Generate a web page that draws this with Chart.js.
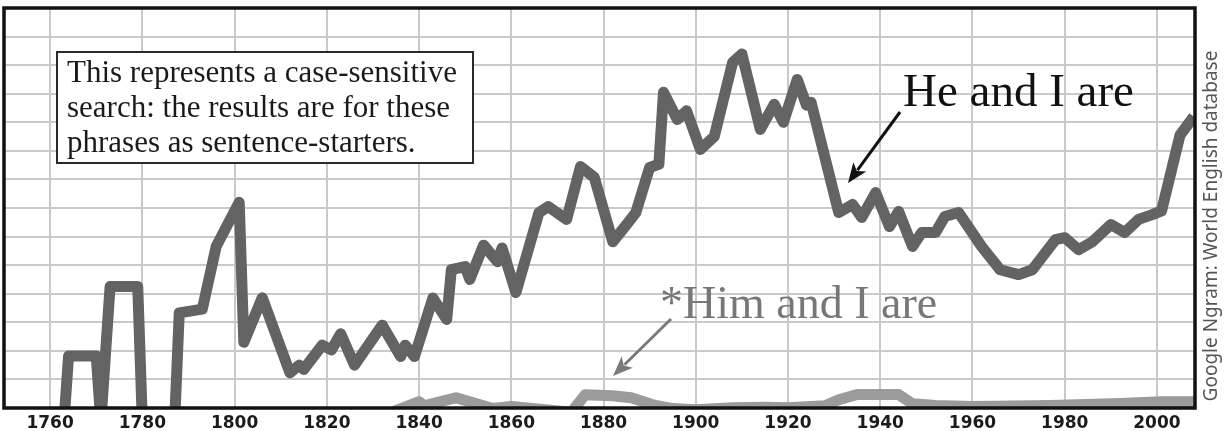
<!DOCTYPE html>
<html>
<head>
<meta charset="utf-8">
<script src="https://cdn.jsdelivr.net/npm/chart.js@4.4.1/dist/chart.umd.min.js"></script>
<style>
  html, body { margin: 0; padding: 0; background: #fff; }
  #wrap { width: 1225px; height: 431px; }
</style>
</head>
<body>
<div id="wrap"><canvas id="ngram" width="1225" height="431"></canvas></div>
<script>
// Values (one grid row = 1 unit)
const heYears = [1763, 1764, 1770, 1771, 1773, 1779, 1780, 1787, 1788, 1793, 1796, 1801, 1802, 1806,
  1812, 1814, 1815, 1819, 1821, 1823, 1826, 1832, 1836, 1837, 1839, 1843, 1846, 1847, 1850, 1851,
  1854, 1857, 1858, 1861, 1866, 1868, 1872, 1875, 1878, 1882, 1885, 1887, 1890, 1892, 1893, 1896,
  1898, 1901, 1904, 1908, 1910, 1914, 1917, 1919, 1922, 1924, 1925, 1931, 1934, 1936, 1939, 1942,
  1944, 1947, 1949, 1952, 1954, 1957, 1962, 1966, 1970, 1973, 1978, 1980, 1983, 1986, 1990, 1993,
  1996, 1999, 2001, 2005, 2008];
const heValues = [-0.5, 1.82, 1.82, -0.5, 4.25, 4.25, -0.5, -0.5, 3.33, 3.46, 5.65, 7.2, 2.3, 3.86,
  1.23, 1.5, 1.35, 2.2, 2.03, 2.6, 1.5, 2.9, 1.8, 2.2, 1.8, 3.85, 3.1, 4.84, 4.95, 4.5,
  5.7, 5.12, 5.6, 4.04, 6.84, 7.05, 6.6, 8.45, 8.07, 5.82, 6.42, 6.84, 8.42, 8.53, 11.05, 10.1,
  10.4, 9.05, 9.5, 12.1, 12.39, 9.75, 10.63, 10.0, 11.5, 10.6, 10.7, 6.84, 7.12, 6.67, 7.54, 6.35,
  6.88, 5.65, 6.14, 6.14, 6.7, 6.84, 5.65, 4.84, 4.67, 4.84, 5.89, 5.96, 5.54, 5.82, 6.42, 6.14,
  6.6, 6.77, 6.9, 9.55, 10.2];

const himYears = [1830, 1834, 1840, 1841, 1848, 1856, 1860, 1873, 1876, 1882, 1886, 1891, 1895, 1900,
  1908, 1915, 1920, 1928, 1931, 1935, 1944, 1947, 1952, 1960, 1977, 1992, 2001, 2008];
const himValues = [-0.5, -0.15, 0.22, 0.08, 0.36, -0.02, 0.05, -0.15, 0.46, 0.43, 0.36, 0.1, -0.02, -0.06,
  0.01, 0.03, 0.01, 0.08, 0.29, 0.47, 0.47, 0.15, 0.09, 0.05, 0.09, 0.16, 0.22, 0.22];

const xTickYears = [1760, 1780, 1800, 1820, 1840, 1860, 1880, 1900, 1920, 1940, 1960, 1980, 2000];

const noteLines = ["This represents a case-sensitive", "search: the results are for these", "phrases as sentence-starters."];
const heLabel = "He and I are";
const himLabel = "*Him and I are";
const sourceText = "Google Ngram: World English database";

function drawArrow(ctx, x1, y1, x2, y2, color) {
    const ang = Math.atan2(y2 - y1, x2 - x1);
    const headLen = 20, headHalf = 8;
    ctx.save();
    ctx.strokeStyle = color;
    ctx.fillStyle = color;
    ctx.lineWidth = 3;
    ctx.beginPath();
    ctx.moveTo(x1, y1);
    ctx.lineTo(x2 - Math.cos(ang) * headLen * 0.8, y2 - Math.sin(ang) * headLen * 0.8);
    ctx.stroke();
    ctx.beginPath();
    ctx.moveTo(x2, y2);
    ctx.lineTo(x2 - Math.cos(ang) * headLen - Math.sin(ang) * headHalf, y2 - Math.sin(ang) * headLen + Math.cos(ang) * headHalf);
    ctx.lineTo(x2 - Math.cos(ang) * headLen * 0.75, y2 - Math.sin(ang) * headLen * 0.75);
    ctx.lineTo(x2 - Math.cos(ang) * headLen + Math.sin(ang) * headHalf, y2 - Math.sin(ang) * headLen - Math.cos(ang) * headHalf);
    ctx.closePath();
    ctx.fill();
    ctx.restore();
}

// frame, note box, labels and the source line
const decorPlugin = {
    id: "decor",
    afterDraw(chart) {
        const ctx = chart.ctx;
        const a = chart.chartArea;
        ctx.save();
        ctx.strokeStyle = "#111";
        ctx.lineWidth = 3.5;
        ctx.strokeRect(a.left, a.top, a.right - a.left, a.bottom - a.top);

        // note box
        ctx.fillStyle = "#fff";
        ctx.fillRect(57, 52, 416, 111);
        ctx.strokeStyle = "#2a2a2a";
        ctx.lineWidth = 2;
        ctx.strokeRect(57, 52, 416, 111);
        ctx.fillStyle = "#1a1a1a";
        ctx.font = "31px 'Liberation Serif'";
        ctx.textAlign = "left";
        ctx.textBaseline = "alphabetic";
        noteLines.forEach((line, i) => ctx.fillText(line, 67, 82 + i * 35));

        // series labels
        ctx.font = "47px 'Liberation Serif'";
        ctx.fillStyle = "#111";
        ctx.fillText(heLabel, 903, 106);
        drawArrow(ctx, 900, 112, 848, 183, "#111");

        ctx.font = "46px 'Liberation Serif'";
        ctx.fillStyle = "#777";
        ctx.fillText(himLabel, 660, 318);
        drawArrow(ctx, 671, 319, 613, 376, "#7a7a7a");

        // source, rotated
        ctx.translate(1212, 226);
        ctx.rotate(-Math.PI / 2);
        ctx.font = "19px 'Noto Sans'";
        ctx.fillStyle = "#555";
        ctx.textAlign = "center";
        ctx.textBaseline = "middle";
        ctx.fillText(sourceText, 0, 0);
        ctx.restore();
    }
};

const ctx = document.getElementById("ngram").getContext("2d");
const ngramChart = new Chart(ctx, {
    type: "line",
    data: {
        datasets: [{
            label: himLabel,
            data: himYears.map((yr, i) => ({ x: yr, y: himValues[i] })),
            borderColor: "#9b9b9b",
            borderWidth: 11,
            borderJoinStyle: "round",
            pointRadius: 0,
            tension: 0,
            clip: 0
        }, {
            label: heLabel,
            data: heYears.map((yr, i) => ({ x: yr, y: heValues[i] })),
            borderColor: "#636363",
            borderWidth: 11,
            borderJoinStyle: "round",
            pointRadius: 0,
            tension: 0,
            clip: 0
        }]
    },
    options: {
        responsive: false,
        animation: false,
        devicePixelRatio: 1,
        layout: { padding: { left: 4, top: 8, right: 30, bottom: 0 } },
        plugins: {
            legend: { display: false },
            tooltip: { enabled: false }
        },
        scales: {
            x: {
                type: "linear",
                min: 1750,
                max: 2008.25,
                afterBuildTicks: (scale) => { scale.ticks = xTickYears.map(v => ({ value: v })); },
                afterFit: (scale) => { scale.height = 23; },
                ticks: {
                    autoSkip: false,
                    maxRotation: 0,
                    padding: 5,
                    color: "#1b1b1b",
                    font: { family: "'DejaVu Sans'", weight: "bold", size: 17 },
                    callback: (v) => String(v)
                },
                grid: { color: "#c9c9c9", lineWidth: 2, drawTicks: false },
                border: { display: false }
            },
            y: {
                min: 0,
                max: 14,
                afterFit: (scale) => { scale.width = 0; },
                ticks: { display: false, stepSize: 1 },
                grid: { color: "#c9c9c9", lineWidth: 2, drawTicks: false },
                border: { display: false }
            }
        }
    },
    plugins: [decorPlugin]
});
</script>
</body>
</html>
